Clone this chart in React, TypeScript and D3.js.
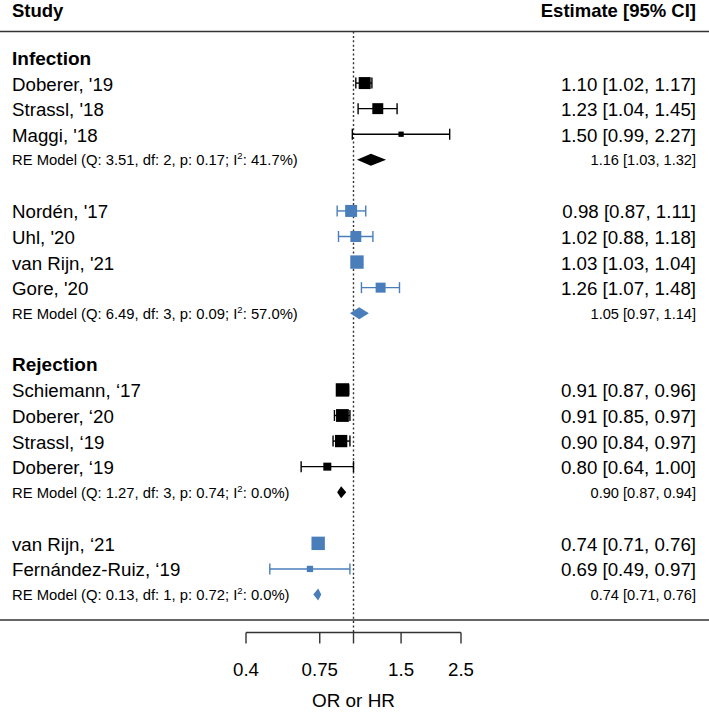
import React from "react";
import * as d3 from "d3";

// ---------- data ----------
const groupHeadings = ["Infection", "", "Rejection", ""];
const groupColors = ["#000000", "#4a7ebb", "#000000", "#4a7ebb"];

const studyNames = [
  "Doberer, '19",
  "Strassl, '18",
  "Maggi, '18",
  "Nordén, '17",
  "Uhl, '20",
  "van Rijn, '21",
  "Gore, '20",
  "Schiemann, \u201817",
  "Doberer, \u201820",
  "Strassl, \u201819",
  "Doberer, \u201819",
  "van Rijn, \u201821",
  "Fernández-Ruiz, \u201819",
];
const studyGroup = [0, 0, 0, 1, 1, 1, 1, 2, 2, 2, 2, 3, 3];
const studyEst = [1.1, 1.23, 1.5, 0.98, 1.02, 1.03, 1.26, 0.91, 0.91, 0.9, 0.8, 0.74, 0.69];
const studyLo = [1.02, 1.04, 0.99, 0.87, 0.88, 1.03, 1.07, 0.87, 0.85, 0.84, 0.64, 0.71, 0.49];
const studyHi = [1.17, 1.45, 2.27, 1.11, 1.18, 1.04, 1.48, 0.96, 0.97, 0.97, 1.0, 0.76, 0.97];
const studyWeight = [36, 30, 7, 36, 30, 45, 25, 45, 41, 38, 16, 45, 10];

const reEst = [1.16, 1.05, 0.9, 0.74];
const reLo = [1.03, 0.97, 0.87, 0.71];
const reHi = [1.32, 1.14, 0.94, 0.76];
const reQ = ["3.51", "6.49", "1.27", "0.13"];
const reDf = ["2", "3", "3", "1"];
const reP = ["0.17", "0.09", "0.74", "0.72"];
const reI2 = ["41.7", "57.0", "0.0", "0.0"];

const axisTicks = [0.4, 0.75, 1, 1.5, 2.5];
const axisTickLabels = ["0.4", "0.75", "", "1.5", "2.5"];
const axisTitle = "OR or HR";

// ---------- layout ----------
const W = 709;
const H = 712;
const FONT = "'Liberation Sans', Arial, Helvetica, sans-serif";

type Row =
  | { kind: "heading"; text: string }
  | { kind: "study"; i: number }
  | { kind: "re"; g: number }
  | { kind: "blank" };

function buildRows(): Row[] {
  const rows: Row[] = [];
  groupHeadings.forEach((h, g) => {
    if (g > 0) rows.push({ kind: "blank" });
    if (h) rows.push({ kind: "heading", text: h });
    studyGroup.forEach((sg, i) => {
      if (sg === g) rows.push({ kind: "study", i });
    });
    rows.push({ kind: "re", g });
  });
  return rows;
}

export default function App() {
  const rows = buildRows();
  const x = d3.scaleLog().domain([0.4, 2.5]).range([246, 461]);
  const y = d3.scaleLinear().domain([0, rows.length - 1]).range([57.5, 594.5]);
  const size = d3.scaleSqrt().domain([0, 45]).range([0, 13.4]);
  const fmt = d3.format(".2f");
  const estText = (e: number, l: number, h: number) => `${fmt(e)} [${fmt(l)}, ${fmt(h)}]`;

  const topLine = 31.5;
  const bottomLine = 620;
  const axisY = 632.5;
  const capH = 5.5;
  const diaH = 6;

  return (
    <svg
      width={W}
      height={H}
      style={{ position: "absolute", left: 0, top: 0, background: "#fff" }}
      fontFamily={FONT}
    >
      <rect x={0} y={0} width={W} height={H} fill="#fff" />
      {/* header */}
      <text x={12} y={17} fontSize={18.5} fontWeight="bold" fill="#000">
        Study
      </text>
      <text x={696} y={17} fontSize={18.5} fontWeight="bold" fill="#000" textAnchor="end">
        Estimate [95% CI]
      </text>
      <line x1={0} x2={W} y1={topLine} y2={topLine} stroke="#333" strokeWidth={1.6} />
      <line x1={0} x2={W} y1={bottomLine} y2={bottomLine} stroke="#333" strokeWidth={1.6} />
      {/* reference line */}
      <line
        x1={x(1)}
        x2={x(1)}
        y1={topLine}
        y2={axisY}
        stroke="#333"
        strokeWidth={1.4}
        strokeDasharray="2,2.4"
      />

      {rows.map((r, k) => {
        const yy = y(k);
        if (r.kind === "heading") {
          return (
            <text key={k} x={12} y={yy + 7} fontSize={19} fontWeight="bold" fill="#000">
              {r.text}
            </text>
          );
        }
        if (r.kind === "study") {
          const i = r.i;
          const c = groupColors[studyGroup[i]];
          const s = size(studyWeight[i]);
          const x0 = x(studyLo[i]);
          const x1 = x(studyHi[i]);
          return (
            <g key={k}>
              <text x={12} y={yy + 7.5} fontSize={18.7} fill="#000">
                {studyNames[i]}
              </text>
              <text x={696} y={yy + 7.5} fontSize={18.7} fill="#000" textAnchor="end">
                {estText(studyEst[i], studyLo[i], studyHi[i])}
              </text>
              <line x1={x0} x2={x1} y1={yy} y2={yy} stroke={c} strokeWidth={1.4} />
              <line x1={x0} x2={x0} y1={yy - capH} y2={yy + capH} stroke={c} strokeWidth={1.4} />
              <line x1={x1} x2={x1} y1={yy - capH} y2={yy + capH} stroke={c} strokeWidth={1.4} />
              <rect x={x(studyEst[i]) - s / 2} y={yy - s / 2} width={s} height={s} fill={c} />
            </g>
          );
        }
        if (r.kind === "re") {
          const g = r.g;
          const c = groupColors[g];
          const pts = [
            [x(reLo[g]), yy],
            [x(reEst[g]), yy - diaH],
            [x(reHi[g]), yy],
            [x(reEst[g]), yy + diaH],
          ];
          return (
            <g key={k}>
              <text x={12} y={yy + 5.5} fontSize={14.8} fill="#000">
                <tspan>{`RE Model (Q: ${reQ[g]}, df: ${reDf[g]}, p: ${reP[g]}; I`}</tspan>
                <tspan dy={-6} fontSize={9.5}>
                  2
                </tspan>
                <tspan dy={6}>{`: ${reI2[g]}%)`}</tspan>
              </text>
              <text x={696} y={yy + 5.5} fontSize={14.6} fill="#000" textAnchor="end">
                {estText(reEst[g], reLo[g], reHi[g])}
              </text>
              <path d={d3.line()(pts as [number, number][]) + "Z"} fill={c} />
            </g>
          );
        }
        return null;
      })}

      {/* axis */}
      <line x1={x(axisTicks[0])} x2={x(axisTicks[axisTicks.length - 1])} y1={axisY} y2={axisY} stroke="#333" strokeWidth={1.4} />
      {axisTicks.map((t, i) => (
        <g key={i}>
          <line x1={x(t)} x2={x(t)} y1={axisY} y2={axisY + 11} stroke="#333" strokeWidth={1.4} />
          <text x={x(t)} y={676} fontSize={18.7} textAnchor="middle" fill="#000">
            {axisTickLabels[i]}
          </text>
        </g>
      ))}
      <text x={x(1)} y={707} fontSize={18.9} textAnchor="middle" fill="#000">
        {axisTitle}
      </text>
    </svg>
  );
}
